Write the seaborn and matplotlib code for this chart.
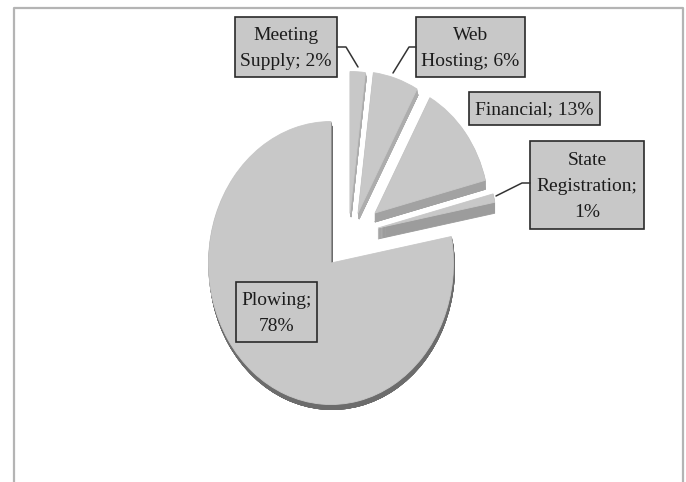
import matplotlib
matplotlib.use('Agg')
import matplotlib.pyplot as plt
from matplotlib.patches import Rectangle
import seaborn as sns

sns.set_theme(style='white')
plt.rcParams['font.family'] = ['Liberation Serif', 'DejaVu Sans']

# order is counter clockwise from 12 o'clock
names = ['Plowing', 'State Registration', 'Financial', 'Web Hosting', 'Meeting Supply']
shares = [78, 1, 13, 6, 2]

# label boxes
box_text = ['Plowing;\n78%', 'State\nRegistration;\n1%', 'Financial; 13%', 'Web\nHosting; 6%', 'Meeting\nSupply; 2%']
box_x = [235.5, 530, 469, 416, 235]
box_y = [282, 141, 92, 17, 17]
box_w = [81.5, 114, 131, 109, 102]
box_h = [60, 88, 33, 60, 60]

# pixel offset of each slice from the pie centre, and its extrusion
cx, cy, rx, ry = 331, 266, 122.5, 141.5
off_x = [0, 47, 44, 27, 19]
off_y = [-3, -38, -53, -53, -53]
side_x = [1, 0, 0, 1, 1]
side_y = [5, 11, 9, 6, 4]
scale = [1, 0.97, 0.93, 1, 1]

top_col = '#c8c8c8'
side_col = ['#6c6c6c', '#9c9c9c', '#a2a2a2', '#adadad', '#adadad']

fig = plt.figure(figsize=(6.86, 4.82), dpi=100)
ax = fig.add_axes([0, 0, 1, 1])

# side faces first as a stack of pies, then the top faces over them
for d in range(max(side_y), 0, -1):
    side, _ = ax.pie(shares, startangle=90, colors=side_col, wedgeprops={'linewidth': 0.6})
    for i in range(len(shares)):
        k = min(d, side_y[i]) / side_y[i]
        side[i].set_center(((off_x[i] + side_x[i] * k) / rx, -(off_y[i] + side_y[i] * k) / ry))
        side[i].set_radius(scale[i])
        side[i].set_edgecolor(side_col[i])
top, _ = ax.pie(shares, startangle=90, colors=[top_col] * 5, wedgeprops={'linewidth': 0.6, 'edgecolor': top_col})
for i in range(len(shares)):
    top[i].set_center((off_x[i] / rx, -off_y[i] / ry))
    top[i].set_radius(scale[i])
ax.set_aspect('auto')
ax.set_xlim(-cx / rx, (686 - cx) / rx)
ax.set_ylim(-(482 - cy) / ry, cy / ry)

# overlay in image pixels for frame, leaders and boxes
over = fig.add_axes([0, 0, 1, 1], facecolor='none')
over.set_xlim(0, 686)
over.set_ylim(482, 0)
over.axis('off')

over.plot([14, 14, 683, 683], [482, 7.5, 7.5, 482], color='#b4b4b4', lw=1.6, solid_capstyle='butt')

over.plot([337, 346, 358], [47, 47, 67], color='#333333', lw=1.1)
over.plot([416, 409, 393], [47, 47, 73], color='#333333', lw=1.1)
over.plot([530, 522, 496], [183, 183, 196], color='#333333', lw=1.1)

for i in range(len(box_text)):
    over.add_patch(Rectangle((box_x[i], box_y[i]), box_w[i], box_h[i],
                             facecolor=top_col, edgecolor='#2a2a2a', lw=1.2))
    over.text(box_x[i] + box_w[i] / 2, box_y[i] + box_h[i] / 2 + 1.5, box_text[i],
              ha='center', va='center', fontsize=14, color='#1c1c1c', linespacing=1.7)

fig.savefig('out.png', dpi=100)
